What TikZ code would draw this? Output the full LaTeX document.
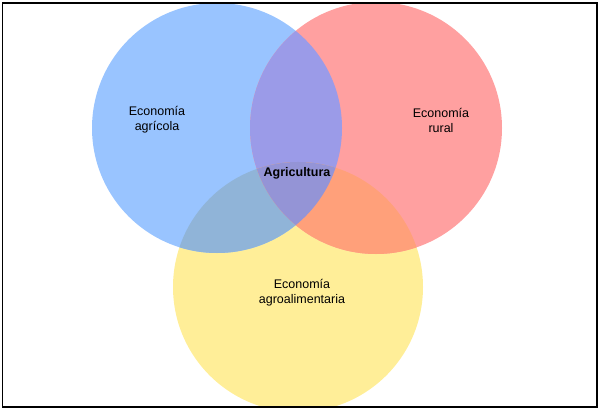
\documentclass[tikz,border=0pt]{standalone}
\usepackage{fontspec}
\setmainfont{Liberation Sans}
\definecolor{cB}{RGB}{153,196,255}
\definecolor{cR}{RGB}{255,160,160}
\definecolor{cY}{RGB}{255,238,152}
\definecolor{cBR}{RGB}{155,155,232}
\definecolor{cBY}{RGB}{144,180,216}
\definecolor{cRY}{RGB}{255,160,122}
\definecolor{cBRY}{RGB}{148,148,214}
\tikzset{lbl/.style={align=center,font=\fontsize{12.5}{15}\selectfont,text=black,inner sep=0pt}}
\begin{document}
\begin{tikzpicture}[x=1pt,y=-1pt]
\useasboundingbox (0,0) rectangle (600,409);
\def\blue{(217,128) circle[radius=125]}
\def\red{(376,128) circle[radius=126]}
\def\yel{(298,287) circle[radius=125]}
\begin{scope}
\clip (1.5,2.5) rectangle (596,406);
\fill[cY] \yel;
\fill[cB] \blue;
\fill[cR] \red;
\begin{scope}\clip \blue; \fill[cBR] \red; \fill[cBY] \yel; \end{scope}
\begin{scope}\clip \red; \fill[cRY] \yel; \end{scope}
\begin{scope}\clip \blue; \clip \red; \fill[cBRY] \yel; \end{scope}
\end{scope}
\node[draw=black,line width=1.5pt,minimum width=594.5pt,minimum height=403.5pt,inner sep=0pt,anchor=north west] (frame) at (1.5,2.5) {};
\node[lbl] (agricola) at (157,120) {Economía\\agrícola};
\node[lbl] (rural) at (441,120) {Economía\\rural};
\node[lbl,font=\fontsize{12.5}{15}\selectfont\bfseries] (agri) at (297,173) {Agricultura};
\node[lbl] (agroal) at (302,293) {Economía\\agroalimentaria};
\end{tikzpicture}
\end{document}
